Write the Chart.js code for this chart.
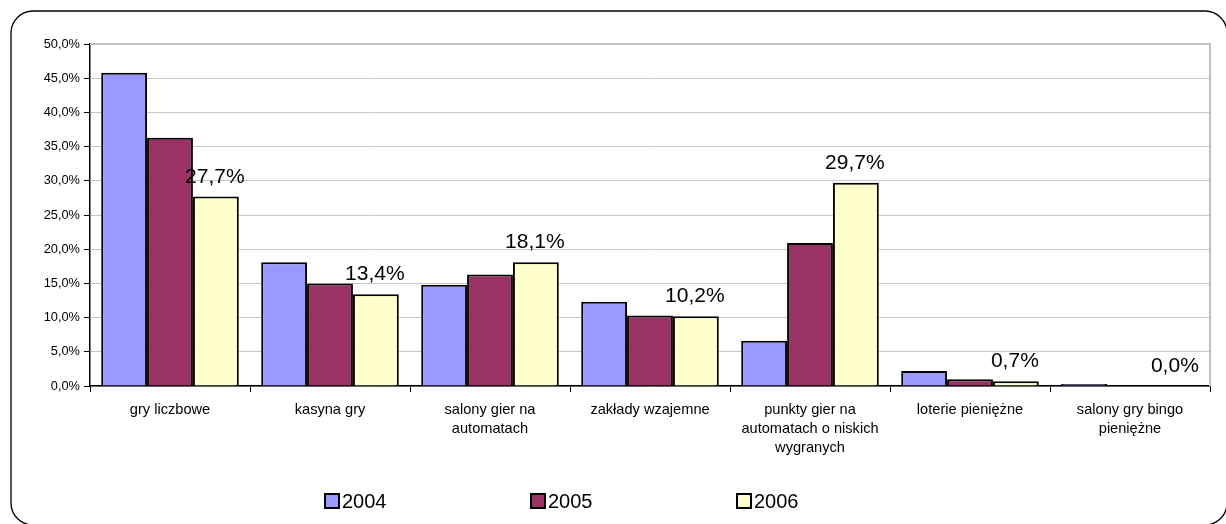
<!DOCTYPE html>
<html>
<head>
<meta charset="utf-8">
<script src="https://cdn.jsdelivr.net/npm/chart.js@4"></script>
<style>
  html, body { margin: 0; padding: 0; background: #fff; }
  #wrap { width: 1226px; height: 524px; }
</style>
</head>
<body>
<div id="wrap"><canvas id="js--chart"></canvas></div>
<script>
const categories = [
    'gry liczbowe',
    'kasyna gry',
    ['salony gier na', 'automatach'],
    'zakłady wzajemne',
    ['punkty gier na', 'automatach o niskich', 'wygranych'],
    'loterie pieniężne',
    ['salony gry bingo', 'pieniężne']
];
const years = ['2004', '2005', '2006'];
const v2004 = [45.8, 18.1, 14.8, 12.3, 6.6, 2.2, 0.3];
const v2005 = [36.3, 15.0, 16.3, 10.3, 20.9, 1.0, 0.1];
const v2006 = [27.7, 13.4, 18.1, 10.2, 29.7, 0.7, 0.0];
const yTicks = [0, 5, 10, 15, 20, 25, 30, 35, 40, 45, 50];
const colors = ['#9999ff', '#993366', '#ffffcc'];

const FONT = '"Liberation Sans", Arial, sans-serif';

function fmt(v) {
    return v.toFixed(1).replace('.', ',') + '%';
}

// rounded frame round the whole chart (right/bottom run to the edge)
const frame = {
    id: 'frame',
    beforeDraw(chart) {
        const c = chart.ctx;
        c.save();
        c.strokeStyle = '#000';
        c.lineWidth = 1.3;
        c.beginPath();
        c.roundRect(11, 11, 1216, 514, 22);
        c.stroke();
        c.restore();
    }
};

// gray top/right border of plot area
const plotBorder = {
    id: 'plotBorder',
    beforeDatasetsDraw(chart) {
        const a = chart.chartArea, c = chart.ctx;
        c.save();
        c.strokeStyle = '#c0c0c0';
        c.lineWidth = 2;
        c.beginPath();
        c.moveTo(a.left, a.top);
        c.lineTo(a.right, a.top);
        c.lineTo(a.right, a.bottom);
        c.stroke();
        c.restore();
    }
};

// value labels on the 2006 bars
const labels2006 = {
    id: 'labels2006',
    afterDatasetsDraw(chart) {
        const c = chart.ctx;
        const meta = chart.getDatasetMeta(2);
        c.save();
        c.font = '21px ' + FONT;
        c.fillStyle = '#000';
        c.textAlign = 'center';
        c.textBaseline = 'alphabetic';
        meta.data.forEach(function (bar, i) {
            c.fillText(fmt(v2006[i]), bar.x - 1, bar.y - 14);
        });
        c.restore();
    }
};

// legend spread out like the original
const legendRow = {
    id: 'legendRow',
    afterDraw(chart) {
        const c = chart.ctx;
        const xs = [325, 531, 737];
        const y = 501;
        c.save();
        c.font = '20px ' + FONT;
        c.textBaseline = 'middle';
        c.textAlign = 'left';
        chart.data.datasets.forEach(function (ds, i) {
            c.fillStyle = ds.backgroundColor;
            c.fillRect(xs[i], y - 7, 14, 14);
            c.strokeStyle = '#000';
            c.lineWidth = 2;
            c.strokeRect(xs[i], y - 7, 14, 14);
            c.fillStyle = '#000';
            c.fillText(ds.label, xs[i] + 17, y + 1);
        });
        c.restore();
    }
};

new Chart(document.getElementById('js--chart'), {
    type: 'bar',
    data: {
        labels: categories,
        datasets: [
            { label: years[0], data: v2004, backgroundColor: colors[0], borderColor: '#000', borderWidth: 2 },
            { label: years[1], data: v2005, backgroundColor: colors[1], borderColor: '#000', borderWidth: 2 },
            { label: years[2], data: v2006, backgroundColor: colors[2], borderColor: '#000', borderWidth: 2 }
        ]
    },
    options: {
        responsive: true,
        maintainAspectRatio: false,
        animation: false,
        datasets: { bar: { categoryPercentage: 0.86, barPercentage: 1.0 } },
        layout: { padding: { top: 44, right: 16, left: 0, bottom: 38 } },
        font: { family: FONT },
        plugins: {
            tooltip: { enabled: false },
            legend: { display: false }
        },
        scales: {
            x: {
                grid: { drawOnChartArea: false, drawTicks: true, tickLength: 6, color: '#000' },
                border: { color: '#000', width: 1.5 },
                ticks: { color: '#000', font: { size: 14.6, lineHeight: 1.28 }, maxRotation: 0, autoSkip: false, padding: 9 },
                afterFit(scale) { scale.height = 100; }
            },
            y: {
                min: 0,
                max: 50,
                afterBuildTicks(scale) { scale.ticks = yTicks.map(function (v) { return { value: v }; }); },
                grid: { color: '#c8c8c8', lineWidth: 1, tickLength: 6, tickColor: '#000' },
                border: { color: '#000', width: 1.5 },
                ticks: { color: '#000', font: { size: 12.8 }, padding: 4, callback: function (v) { return fmt(v); } },
                afterFit(scale) { scale.width = 90; }
            }
        }
    },
    plugins: [frame, plotBorder, labels2006, legendRow]
});
</script>
</body>
</html>
